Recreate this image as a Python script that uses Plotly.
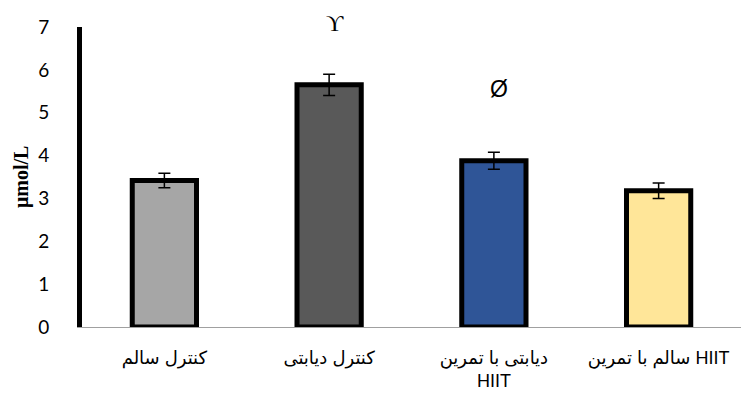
import plotly.graph_objects as go

categories = ["کنترل سالم", "کنترل دیابتی", "دیابتی با تمرین<br>HIIT", "سالم با تمرین HIIT"]
values = [3.42, 5.65, 3.88, 3.18]
errors = [0.17, 0.25, 0.20, 0.18]
colors = ["#A6A6A6", "#595959", "#2F5597", "#FFE699"]
markers = ["", "ϒ", "Ø", ""]
marker_y = [None, 7.09, 5.55, None]
y_ticks = [0, 1, 2, 3, 4, 5, 6, 7]
y_max = 7

fig = go.Figure()
fig.add_trace(go.Bar(
    x=categories, y=values,
    marker=dict(color=colors, line=dict(color="black", width=5)),
    error_y=dict(type="data", array=errors, color="black", thickness=1.5, width=6),
    width=0.39,
))

for c, m, yv in zip(categories, markers, marker_y):
    if m:
        fig.add_annotation(x=c, y=yv / y_max, yref="paper", text=m, showarrow=False,
                           xanchor="center", yanchor="middle",
                           xshift=6 if m == "ϒ" else 5,
                           font=dict(family="Liberation Serif" if m == "ϒ" else "Liberation Sans",
                                     size=24 if m == "ϒ" else 23, color="black"))

fig.add_annotation(x=0, xref="paper", y=0.5, yref="paper", xshift=-61, textangle=-90,
                   xanchor="center", yanchor="middle",
                   text="<b>μmol/L</b>", showarrow=False,
                   font=dict(family="Liberation Serif", size=20, color="black"))

fig.update_layout(
    width=741, height=405,
    margin=dict(l=82, r=0, t=27, b=78),
    plot_bgcolor="white", paper_bgcolor="white",
    showlegend=False,
    xaxis=dict(showline=True, linecolor="#A0A0A0", linewidth=1, ticks="", automargin=False,
               tickfont=dict(family="Liberation Sans, DejaVu Sans", size=18, color="black"),
               ticklabelstandoff=14, range=[-0.5, 3.5]),
    yaxis=dict(range=[0, y_max], tickvals=y_ticks, showgrid=False, zeroline=False, automargin=False,
               showline=True, linecolor="black", linewidth=5, ticks="",
               tickfont=dict(family="Lato, Liberation Sans", size=19, color="black"),
               ticklabelstandoff=24),
)

fig.write_html("out.html", config={"displayModeBar": False},
               post_script="document.body.style.margin='0px';")
